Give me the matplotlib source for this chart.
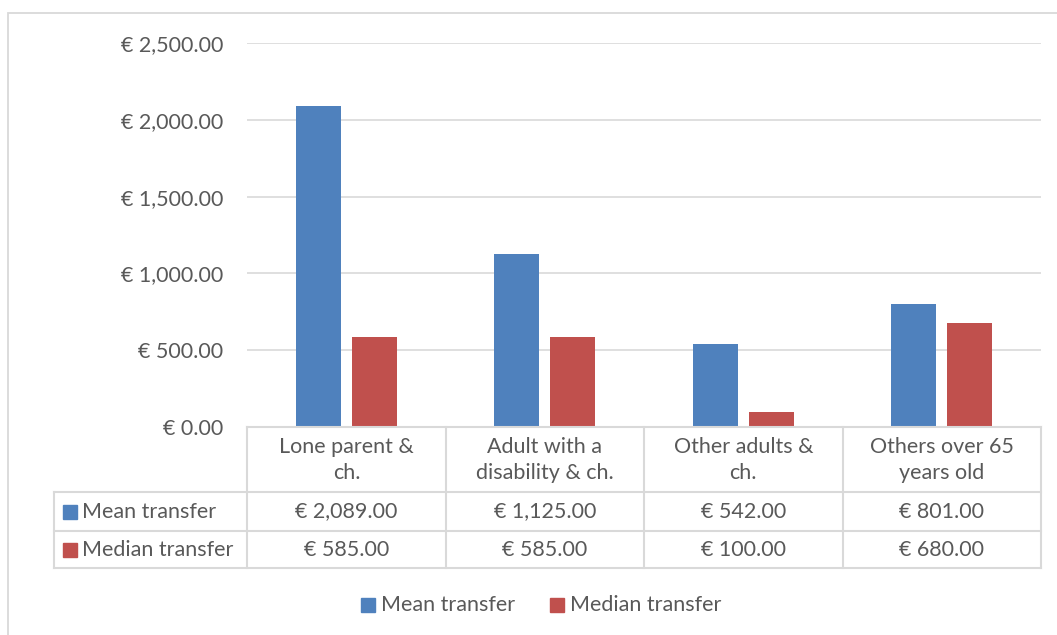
import matplotlib
matplotlib.use("Agg")
import matplotlib.pyplot as plt
from matplotlib.patches import Rectangle

# data
categories = ["Lone parent &\nch.", "Adult with a\ndisability & ch.",
              "Other adults &\nch.", "Others over 65\nyears old"]
series_names = ["Mean transfer", "Median transfer"]
mean_transfer = [2089, 1125, 542, 801]
median_transfer = [585, 585, 100, 680]
yticks = [0, 500, 1000, 1500, 2000, 2500]

colors = ["#4F81BD", "#C0504D"]
text_color = "#595959"
line_color = "#D9D9D9"
fs = 15.5
plt.rcParams['font.family'] = ['Lato', 'DejaVu Sans']

W, H = 1057, 635
fig = plt.figure(figsize=(W / 100, H / 100), dpi=100)


def fbox(x0, y0, x1, y1):
    # pixel box (top-left origin) -> figure fraction rect
    return [x0 / W, 1 - y1 / H, (x1 - x0) / W, (y1 - y0) / H]


def euro(v):
    return "€ {:,.2f}".format(v)


# outer chart border
fig.patches.append(Rectangle((8 / W, -0.1), 1.2, 1 - 13 / H + 0.1,
                             transform=fig.transFigure, fill=False,
                             edgecolor=line_color, linewidth=1.3))

# main bar axes
ax = fig.add_axes(fbox(247, 43, 1041, 427))
n = len(categories)
x = list(range(n))
bw = 0.227
off = 0.141
ax.bar([i - off for i in x], mean_transfer, bw, color=colors[0], zorder=3)
ax.bar([i + off for i in x], median_transfer, bw, color=colors[1], zorder=3)
ax.set_xlim(-0.5, n - 0.5)
ax.set_ylim(0, 2500)
ax.set_yticks(yticks)
ax.set_yticklabels([euro(v) for v in yticks], fontsize=fs, color=text_color)
ax.tick_params(axis='y', length=0, pad=17)
ax.set_xticks([])
for s in ax.spines.values():
    s.set_visible(False)
ax.grid(axis='y', color=line_color, linewidth=1.2, zorder=0)
ax.set_axisbelow(True)

# data table axes (pixel coordinates in y)
lab_w = 193 / 198.25
tab = fig.add_axes(fbox(54, 427, 1041, 568))
tab.set_xlim(-0.5 - lab_w, n - 0.5)
tab.set_ylim(141, 0)
tab.axis('off')
rows = [0, 65, 104, 141]
lw = 1.5
# header
tab.plot([-0.5, n - 0.5], [rows[0], rows[0]], color=line_color, lw=lw, clip_on=False)
for r in rows[1:]:
    tab.plot([-0.5 - lab_w, n - 0.5], [r, r], color=line_color, lw=lw, clip_on=False)
for i in range(n + 1):
    tab.plot([i - 0.5, i - 0.5], [rows[0], rows[3]], color=line_color, lw=lw, clip_on=False)
tab.plot([-0.5 - lab_w] * 2, [rows[1], rows[3]], color=line_color, lw=lw, clip_on=False)

for i, c in enumerate(categories):
    tab.text(i, (rows[0] + rows[1]) / 2 + 0.5, c, ha='center', va='center',
             fontsize=fs, color=text_color, linespacing=1.35)
for j, vals in enumerate([mean_transfer, median_transfer]):
    yc = (rows[j + 1] + rows[j + 2]) / 2
    for i, v in enumerate(vals):
        tab.text(i, yc, euro(v), ha='center', va='center',
                 fontsize=fs, color=text_color)
    # legend key + series name
    fig.patches.append(Rectangle((63 / W, 1 - (yc + 427 + 7) / H), 14 / W, 14 / H,
                                 transform=fig.transFigure, color=colors[j]))
    fig.text(82 / W, 1 - (yc + 427) / H, series_names[j], ha='left', va='center',
             fontsize=fs, color=text_color)

# bottom legend
leg_x = [361, 550]
for j, name in enumerate(series_names):
    fig.patches.append(Rectangle((leg_x[j] / W, 1 - 612 / H), 14 / W, 14 / H,
                                 transform=fig.transFigure, color=colors[j]))
    fig.text((leg_x[j] + 20) / W, 1 - 605 / H, name, ha='left', va='center',
             fontsize=fs, color=text_color)

fig.savefig("out.png", dpi=100)
